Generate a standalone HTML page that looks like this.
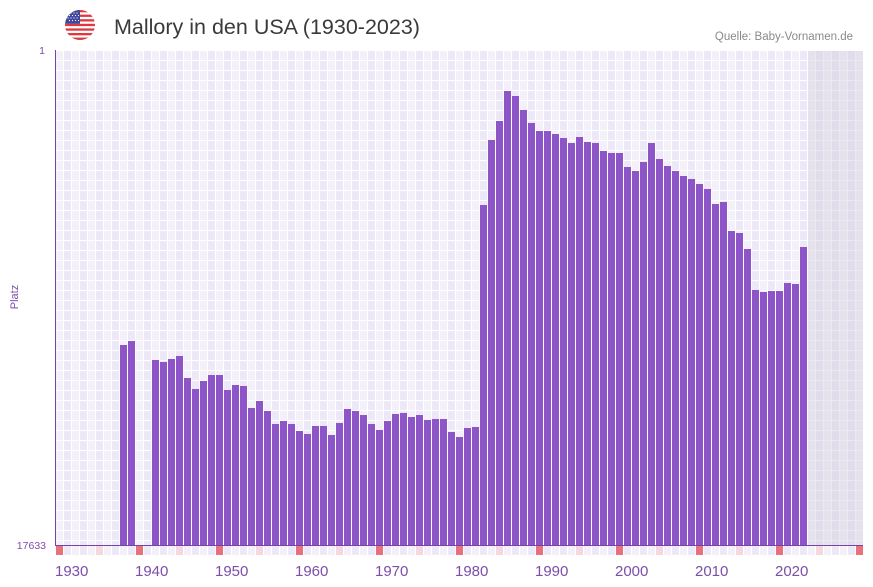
<!DOCTYPE html>
<html><head><meta charset="utf-8"><style>
html,body{margin:0;padding:0;background:#fff;width:873px;height:587px;overflow:hidden}
svg{display:block}
text{font-family:"Liberation Sans",sans-serif}
</style></head><body>
<svg width="873" height="587" viewBox="0 0 873 587" xmlns="http://www.w3.org/2000/svg">
<defs>
<pattern id="grid" x="56" y="51" width="16" height="10" patternUnits="userSpaceOnUse">
<rect x="0" y="0" width="16" height="10" fill="#ffffff"/>
<rect x="0" y="0" width="7" height="9" fill="#f3f0fa"/>
<rect x="8" y="0" width="7" height="9" fill="#ede8f7"/>
</pattern>
<pattern id="grayg" x="56" y="51" width="16" height="10" patternUnits="userSpaceOnUse">
<rect x="0" y="0" width="16" height="10" fill="#ece9f0"/>
<rect x="0" y="0" width="7" height="9" fill="#e5e1ed"/>
<rect x="8" y="0" width="7" height="9" fill="#e1dcea"/>
</pattern>
<pattern id="strip" x="56" y="546" width="16" height="10" patternUnits="userSpaceOnUse">
<rect x="0" y="0" width="16" height="10" fill="#ffffff"/>
<rect x="0" y="0" width="7" height="10" fill="#f3f0fa"/>
<rect x="8" y="0" width="7" height="10" fill="#ede8f7"/>
</pattern>
<clipPath id="fc"><circle cx="80" cy="25" r="15"/></clipPath>
</defs>

<g clip-path="url(#fc)">
<rect x="65" y="10" width="30" height="30" fill="#ffffff"/>
<rect x="65" y="10" width="30" height="2.3" fill="#e0383e"/>
<rect x="65" y="14.6" width="30" height="2.3" fill="#e0383e"/>
<rect x="65" y="19.2" width="30" height="2.3" fill="#e0383e"/>
<rect x="65" y="23.8" width="30" height="2.3" fill="#e0383e"/>
<rect x="65" y="28.4" width="30" height="2.3" fill="#e0383e"/>
<rect x="65" y="33" width="30" height="2.3" fill="#e0383e"/>
<rect x="65" y="37.6" width="30" height="2.4" fill="#e0383e"/>
<rect x="65" y="10" width="15" height="13.8" fill="#41479b"/>
<g fill="#ffffff">
<circle cx="68" cy="13" r="0.6"/><circle cx="71" cy="13" r="0.6"/><circle cx="74" cy="13" r="0.6"/><circle cx="77" cy="13" r="0.6"/>
<circle cx="69.5" cy="15.5" r="0.6"/><circle cx="72.5" cy="15.5" r="0.6"/><circle cx="75.5" cy="15.5" r="0.6"/><circle cx="78.5" cy="15.5" r="0.6"/>
<circle cx="68" cy="18" r="0.6"/><circle cx="71" cy="18" r="0.6"/><circle cx="74" cy="18" r="0.6"/><circle cx="77" cy="18" r="0.6"/>
<circle cx="69.5" cy="20.5" r="0.6"/><circle cx="72.5" cy="20.5" r="0.6"/><circle cx="75.5" cy="20.5" r="0.6"/><circle cx="78.5" cy="20.5" r="0.6"/>
</g>
</g>

<text x="114" y="34" font-size="21.5" fill="#3a3a3a">Mallory in den USA (1930-2023)</text>
<text x="853" y="40" font-size="11.5" fill="#8a8a8a" text-anchor="end">Quelle: Baby-Vornamen.de</text>

<rect x="56" y="50" width="807" height="495" fill="#ffffff"/>
<rect x="56" y="51" width="807" height="494" fill="url(#grid)"/>
<rect x="808" y="51" width="55" height="494" fill="url(#grayg)"/>

<g fill="#8d55c7">
<rect x="120" y="345" width="7" height="200"/>
<rect x="128" y="341" width="7" height="204"/>
<rect x="152" y="360" width="7" height="185"/>
<rect x="160" y="362" width="7" height="183"/>
<rect x="168" y="359" width="7" height="186"/>
<rect x="176" y="356" width="7" height="189"/>
<rect x="184" y="378" width="7" height="167"/>
<rect x="192" y="389" width="7" height="156"/>
<rect x="200" y="381" width="7" height="164"/>
<rect x="208" y="375" width="7" height="170"/>
<rect x="216" y="375" width="7" height="170"/>
<rect x="224" y="390" width="7" height="155"/>
<rect x="232" y="385" width="7" height="160"/>
<rect x="240" y="386" width="7" height="159"/>
<rect x="248" y="408" width="7" height="137"/>
<rect x="256" y="401" width="7" height="144"/>
<rect x="264" y="411" width="7" height="134"/>
<rect x="272" y="424" width="7" height="121"/>
<rect x="280" y="421" width="7" height="124"/>
<rect x="288" y="424" width="7" height="121"/>
<rect x="296" y="431" width="7" height="114"/>
<rect x="304" y="434" width="7" height="111"/>
<rect x="312" y="426" width="7" height="119"/>
<rect x="320" y="426" width="7" height="119"/>
<rect x="328" y="435" width="7" height="110"/>
<rect x="336" y="423" width="7" height="122"/>
<rect x="344" y="409" width="7" height="136"/>
<rect x="352" y="411" width="7" height="134"/>
<rect x="360" y="415" width="7" height="130"/>
<rect x="368" y="424" width="7" height="121"/>
<rect x="376" y="430" width="7" height="115"/>
<rect x="384" y="421" width="7" height="124"/>
<rect x="392" y="414" width="7" height="131"/>
<rect x="400" y="413" width="7" height="132"/>
<rect x="408" y="417" width="7" height="128"/>
<rect x="416" y="415" width="7" height="130"/>
<rect x="424" y="420" width="7" height="125"/>
<rect x="432" y="419" width="7" height="126"/>
<rect x="440" y="419" width="7" height="126"/>
<rect x="448" y="432" width="7" height="113"/>
<rect x="456" y="437" width="7" height="108"/>
<rect x="464" y="428" width="7" height="117"/>
<rect x="472" y="427" width="7" height="118"/>
<rect x="480" y="205" width="7" height="340"/>
<rect x="488" y="140" width="7" height="405"/>
<rect x="496" y="121" width="7" height="424"/>
<rect x="504" y="91" width="7" height="454"/>
<rect x="512" y="96" width="7" height="449"/>
<rect x="520" y="110" width="7" height="435"/>
<rect x="528" y="123" width="7" height="422"/>
<rect x="536" y="131" width="7" height="414"/>
<rect x="544" y="131" width="7" height="414"/>
<rect x="552" y="134" width="7" height="411"/>
<rect x="560" y="138" width="7" height="407"/>
<rect x="568" y="143" width="7" height="402"/>
<rect x="576" y="137" width="7" height="408"/>
<rect x="584" y="142" width="7" height="403"/>
<rect x="592" y="143" width="7" height="402"/>
<rect x="600" y="151" width="7" height="394"/>
<rect x="608" y="153" width="7" height="392"/>
<rect x="616" y="153" width="7" height="392"/>
<rect x="624" y="167" width="7" height="378"/>
<rect x="632" y="171" width="7" height="374"/>
<rect x="640" y="162" width="7" height="383"/>
<rect x="648" y="143" width="7" height="402"/>
<rect x="656" y="159" width="7" height="386"/>
<rect x="664" y="166" width="7" height="379"/>
<rect x="672" y="171" width="7" height="374"/>
<rect x="680" y="176" width="7" height="369"/>
<rect x="688" y="179" width="7" height="366"/>
<rect x="696" y="184" width="7" height="361"/>
<rect x="704" y="189" width="7" height="356"/>
<rect x="712" y="204" width="7" height="341"/>
<rect x="720" y="202" width="7" height="343"/>
<rect x="728" y="231" width="7" height="314"/>
<rect x="736" y="233" width="7" height="312"/>
<rect x="744" y="249" width="7" height="296"/>
<rect x="752" y="290" width="7" height="255"/>
<rect x="760" y="292" width="7" height="253"/>
<rect x="768" y="291" width="7" height="254"/>
<rect x="776" y="291" width="7" height="254"/>
<rect x="784" y="283" width="7" height="262"/>
<rect x="792" y="284" width="7" height="261"/>
<rect x="800" y="247" width="7" height="298"/>
</g>

<rect x="56" y="546" width="807" height="9" fill="url(#strip)"/>
<g fill="#e8727b">
<rect x="56" y="546" width="7" height="9"/>
<rect x="136" y="546" width="7" height="9"/>
<rect x="216" y="546" width="7" height="9"/>
<rect x="296" y="546" width="7" height="9"/>
<rect x="376" y="546" width="7" height="9"/>
<rect x="456" y="546" width="7" height="9"/>
<rect x="536" y="546" width="7" height="9"/>
<rect x="616" y="546" width="7" height="9"/>
<rect x="696" y="546" width="7" height="9"/>
<rect x="776" y="546" width="7" height="9"/>
<rect x="856" y="546" width="7" height="9"/>
</g>
<g fill="#f6d8e1">
<rect x="96" y="546" width="7" height="9"/>
<rect x="176" y="546" width="7" height="9"/>
<rect x="256" y="546" width="7" height="9"/>
<rect x="336" y="546" width="7" height="9"/>
<rect x="416" y="546" width="7" height="9"/>
<rect x="496" y="546" width="7" height="9"/>
<rect x="576" y="546" width="7" height="9"/>
<rect x="656" y="546" width="7" height="9"/>
<rect x="736" y="546" width="7" height="9"/>
<rect x="816" y="546" width="7" height="9"/>
</g>

<rect x="55" y="50" width="1" height="496" fill="#7444a8"/>
<rect x="55" y="545" width="808" height="1" fill="#7444a8"/>

<text x="45" y="54" font-size="10.5" fill="#7b4ea8" text-anchor="end">1</text>
<text x="46" y="549" font-size="10.5" fill="#7b4ea8" text-anchor="end">17633</text>
<text transform="translate(18,297) rotate(-90)" font-size="11" fill="#7b4ea8" text-anchor="middle">Platz</text>

<g font-size="15" fill="#7b4ea8">
<text x="55" y="576">1930</text>
<text x="135" y="576">1940</text>
<text x="215" y="576">1950</text>
<text x="295" y="576">1960</text>
<text x="375" y="576">1970</text>
<text x="455" y="576">1980</text>
<text x="535" y="576">1990</text>
<text x="615" y="576">2000</text>
<text x="695" y="576">2010</text>
<text x="775" y="576">2020</text>
</g>
</svg>
</body></html>
